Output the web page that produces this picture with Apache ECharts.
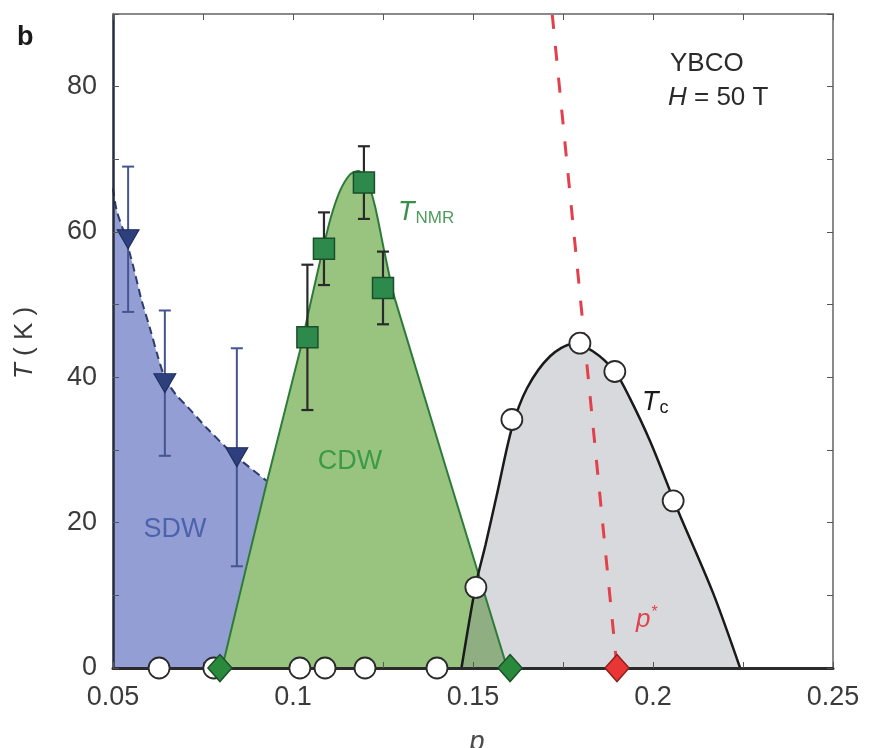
<!DOCTYPE html>
<html>
<head>
<meta charset="utf-8">
<script src="https://cdn.jsdelivr.net/npm/echarts@6/dist/echarts.min.js"></script>
<style>
  html, body { margin: 0; padding: 0; background: #fff; }
  #chart { width: 876px; height: 748px; }
</style>
</head>
<body>
<div id="chart"></div>
<script>
// hole doping p  vs  temperature T (K)
var sdwEdge = [[0.05,66],[0.051,63],[0.053,60],[0.0555,55.5],[0.058,50.5],[0.0603,46.7],[0.0625,42.8],
  [0.0644,40],[0.0675,37.6],[0.0706,36],[0.0761,33],[0.0833,29.5],[0.0928,25.7],[0.097,24]];
var sdwPoints = [[0.0542,59,10],[0.0644,39.2,10],[0.0844,29,15]];        // p, T, error
var cdwEdge = [[0.0803,0],[0.0928,25.7],[0.1019,43.6],[0.105,50.5],[0.108,57],[0.1105,62],[0.113,65.6],
  [0.1158,67.9],[0.1182,68.4],[0.1205,67.2],[0.1228,63.5],[0.1255,57],[0.1283,50.8],[0.1595,0]];
var nmrPoints = [[0.104,45.5,10],[0.1086,57.7,5],[0.1197,66.8,5],[0.125,52.3,5]]; // p, T, error
var tcEdge = [[0.1468,0],[0.1508,11.5],[0.1535,17],[0.1567,24],[0.1608,33],[0.165,38.5],[0.1714,42.9],
  [0.1778,44.6],[0.1833,43.6],[0.1894,40.8],[0.1936,37.1],[0.1992,31.2],[0.2056,23.3],[0.2075,21],
  [0.2167,10.3],[0.2242,0]];
var overlapEdge = [[0.1468,0],[0.1515,12.8],[0.1595,0]];
var tcPoints = [[0.1508,11.1],[0.1608,34.2],[0.1797,44.7],[0.1894,40.8],[0.2056,23]];
var zeroPoints = [0.0628,0.078,0.1019,0.1089,0.12,0.14];
var cdwEnds = [0.0797,0.1603];
var pStar = 0.19;
var pStarLine = [[0.172,90],[0.19,0]];
var xTicks = [0.05,0.1,0.15,0.2,0.25];
var yTicks = [0,20,40,60,80];

var F = 'Liberation Sans, Arial, sans-serif';
var mychart = echarts.init(document.getElementById('chart'));

function errorBars(color, width) {
  return function (params, api) {
    var p = api.value(0), t = api.value(1), e = api.value(2);
    var top = api.coord([p, t + e]);
    var bot = api.coord([p, t - e]);
    var cap = 6;
    var st = { stroke: color, lineWidth: width };
    return { type: 'group', children: [
      { type: 'line', shape: { x1: top[0], y1: top[1], x2: bot[0], y2: bot[1] }, style: st },
      { type: 'line', shape: { x1: top[0] - cap, y1: top[1], x2: top[0] + cap, y2: top[1] }, style: st },
      { type: 'line', shape: { x1: bot[0] - cap, y1: bot[1], x2: bot[0] + cap, y2: bot[1] }, style: st }
    ]};
  };
}

function txt(x, y, text, size, color, extra) {
  var o = { type: 'text', x: x, y: y, z: 100,
    style: { text: text, fontSize: size, fontFamily: F, fill: color, align: 'left', verticalAlign: 'middle' } };
  if (extra) { for (var k in extra) o.style[k] = extra[k]; }
  return o;
}

var xLab = function (v) {
  return xTicks.some(function (t) { return Math.abs(t - v) < 1e-6; }) ? String(+v.toFixed(2)) : '';
};
var yLab = function (v) { return yTicks.indexOf(Math.round(v)) >= 0 ? String(Math.round(v)) : ''; };

var axisBase = { type: 'value', z: 20, splitLine: { show: false } };

mychart.setOption({
  animation: false,
  backgroundColor: '#fff',
  grid: { left: 113, right: 43, top: 14, bottom: 80 },
  xAxis: [
    Object.assign({}, axisBase, {
      min: 0.05, max: 0.25, interval: 0.025, position: 'bottom',
      axisLine: { onZero: false, lineStyle: { color: '#2b2b2b', width: 3 } },
      axisTick: { inside: true, length: 6, lineStyle: { color: '#555' } },
      axisLabel: { formatter: xLab, interval: 0, margin: 16, fontSize: 27, fontFamily: F, color: '#3a3a3a' }
    }),
    Object.assign({}, axisBase, {
      min: 0.05, max: 0.25, interval: 0.025, position: 'top',
      axisLine: { onZero: false, lineStyle: { color: '#8a8a8a', width: 2 } },
      axisTick: { inside: true, length: 6, lineStyle: { color: '#555' } },
      axisLabel: { show: false }
    })
  ],
  yAxis: [
    Object.assign({}, axisBase, {
      min: 0, max: 90, interval: 10, position: 'left',
      axisLine: { show: true, onZero: false, lineStyle: { color: '#262a3e', width: 2.5 } },
      axisTick: { inside: true, length: 6, lineStyle: { color: '#555' } },
      axisLabel: { formatter: yLab, interval: 0, margin: 16, fontSize: 27, fontFamily: F, color: '#3a3a3a' }
    }),
    Object.assign({}, axisBase, {
      min: 0, max: 90, interval: 10, position: 'right',
      axisLine: { show: true, onZero: false, lineStyle: { color: '#8a8a8a', width: 2 } },
      axisTick: { inside: true, length: 6, lineStyle: { color: '#555' } },
      axisLabel: { show: false }
    })
  ],
  series: [
    { name: 'SDW', type: 'line', z: 1, data: sdwEdge, symbol: 'none', smooth: 0.3,
      lineStyle: { color: '#2e3b6e', width: 2, type: [8, 5] },
      areaStyle: { color: '#939ed4', opacity: 1 } },
    { type: 'custom', z: 2, data: sdwPoints, renderItem: errorBars('#45558f', 2), encode: { x: 0, y: 1 }, clip: false },
    { type: 'scatter', z: 3, data: sdwPoints.map(function (d) { return [d[0], d[1]]; }),
      symbol: 'triangle', symbolRotate: 180, symbolSize: [22, 19],
      itemStyle: { color: '#2d3f7c', borderColor: '#1d2a58', borderWidth: 1, opacity: 1 } },
    { name: 'CDW', type: 'line', z: 4, data: cdwEdge, symbol: 'none', smooth: 0.25, lineStyle: { width: 0 },
      areaStyle: { color: '#98c47f', opacity: 1 } },
    { name: 'Tc', type: 'line', z: 5, data: tcEdge, symbol: 'none', smooth: 0.3, lineStyle: { width: 0 },
      areaStyle: { color: '#d8d9dc', opacity: 1 } },
    { type: 'line', z: 6, data: overlapEdge, symbol: 'none', lineStyle: { width: 0 },
      areaStyle: { color: '#8fae82', opacity: 1 } },
    { type: 'line', z: 7, data: cdwEdge, symbol: 'none', smooth: 0.25, lineStyle: { color: '#2d7a3a', width: 2 } },
    { type: 'line', z: 7, data: tcEdge, symbol: 'none', smooth: 0.3, lineStyle: { color: '#1a1a1a', width: 2.5 } },
    { type: 'line', z: 8, data: pStarLine, symbol: 'none', lineStyle: { color: '#e2404b', width: 3, type: [15, 17] } },
    { type: 'custom', z: 9, data: nmrPoints, renderItem: errorBars('#2a2a2a', 2.2), encode: { x: 0, y: 1 }, clip: false },
    { type: 'scatter', z: 10, data: nmrPoints.map(function (d) { return [d[0], d[1]]; }), symbol: 'rect', symbolSize: 21,
      itemStyle: { color: '#2e8a4c', borderColor: '#1b4e2b', borderWidth: 1.5, opacity: 1 } },
    { type: 'scatter', z: 30, data: tcPoints, symbol: 'circle', symbolSize: 21, clip: false,
      itemStyle: { color: '#fff', borderColor: '#2a2a2a', borderWidth: 1.8, opacity: 1 } },
    { type: 'scatter', z: 30, data: zeroPoints.map(function (p) { return [p, 0]; }), symbol: 'circle', symbolSize: 21, clip: false,
      itemStyle: { color: '#fff', borderColor: '#2a2a2a', borderWidth: 1.8, opacity: 1 } },
    { type: 'scatter', z: 31, data: cdwEnds.map(function (p) { return [p, 0]; }), symbol: 'diamond', symbolSize: [24, 27], clip: false,
      itemStyle: { color: '#2a8a3c', borderColor: '#1b4e2b', borderWidth: 1.5, opacity: 1 } },
    { type: 'scatter', z: 31, data: [[pStar, 0]], symbol: 'diamond', symbolSize: [24, 27], clip: false,
      itemStyle: { color: '#ea3535', borderColor: '#8a1f1f', borderWidth: 1.5, opacity: 1 } }
  ],
  graphic: [
    txt(17, 38, 'b', 27, '#1a1a1a', { fontWeight: 'bold' }),
    txt(670, 64, 'YBCO', 26, '#2a2a2a'),
    txt(668, 98, '{i|H} = 50 T', 26, '#2a2a2a',
      { rich: { i: { fontStyle: 'italic', fontSize: 26, fontFamily: F, fill: '#2a2a2a' } } }),
    txt(398, 212, '{i|T}{s|NMR}', 27, '#3a8f4a',
      { rich: { i: { fontStyle: 'italic', fontSize: 27, fontFamily: F, fill: '#3a8f4a' },
                s: { fontSize: 17, fontFamily: F, fill: '#4f9c5c', padding: [12, 0, 0, 1] } } }),
    txt(350, 462, 'CDW', 27, '#3c9a46', { align: 'center' }),
    txt(175, 530, 'SDW', 27, '#4d62ad', { align: 'center' }),
    txt(642, 402, '{i|T}{s|c}', 27, '#1a1a1a',
      { rich: { i: { fontStyle: 'italic', fontSize: 27, fontFamily: F, fill: '#1a1a1a' },
                s: { fontSize: 18, fontFamily: F, fill: '#1a1a1a', padding: [12, 0, 0, 1] } } }),
    txt(636, 620, '{i|p}{s|*}', 26, '#e2404b',
      { rich: { i: { fontStyle: 'italic', fontSize: 26, fontFamily: F, fill: '#e2404b' },
                s: { fontSize: 16, fontFamily: F, fill: '#e2404b', padding: [0, 0, 14, 1] } } }),
    txt(477, 742, 'p', 27, '#4a4a4a', { align: 'center', fontStyle: 'italic' }),
    { type: 'text', x: 25, y: 343, rotation: Math.PI / 2, z: 100,
      style: { text: '{i|T} ( K )', fontSize: 26, fontFamily: F, fill: '#3a3a3a', align: 'center', verticalAlign: 'middle',
        rich: { i: { fontStyle: 'italic', fontSize: 26, fontFamily: F, fill: '#3a3a3a' } } } }
  ]
});
</script>
</body>
</html>
